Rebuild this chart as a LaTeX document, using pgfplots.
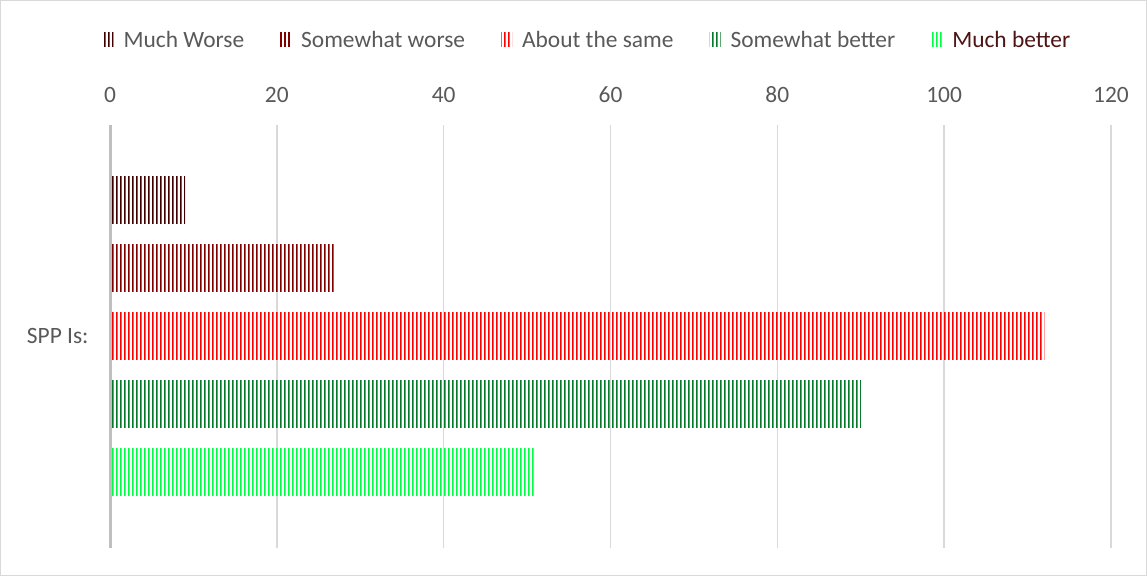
\documentclass[border=0pt]{standalone}
\usepackage{pgfplots}
\pgfplotsset{compat=1.18}
\usepackage{fontspec}
\setmainfont{Carlito}
\usetikzlibrary{patterns.meta}
\definecolor{c1}{HTML}{3F0000}
\definecolor{c2}{HTML}{800000}
\definecolor{c3}{HTML}{FF0000}
\definecolor{c4}{HTML}{067A2A}
\definecolor{c5}{HTML}{00FF44}
\definecolor{txt}{HTML}{595959}
\definecolor{gridc}{HTML}{D9D9D9}
\definecolor{axl}{HTML}{BFBFBF}
\definecolor{lastleg}{HTML}{4D1414}
\tikzdeclarepattern{
  name=vstripes,
  type=uncolored,
  bounding box={(0,0) and (4bp,200bp)},
  tile size={(4bp,200bp)},
  code={\pgfpathrectangle{\pgfpointorigin}{\pgfqpoint{2bp}{200bp}}\pgfusepath{fill}}
}
\begin{document}
\begin{tikzpicture}[x=1bp,y=1bp]
\draw[gridc, line width=1bp] (0.5,0.5) rectangle (1146.5,575.5);
\begin{axis}[
  at={(110bp,28bp)}, anchor=south west,
  scale only axis, width=1001bp, height=423bp,
  xmin=0, xmax=120, ymin=-1, ymax=1,
  xbar=21bp, bar width=47bp,
  xtick={20,40,...,120},
  extra x ticks={0}, extra x tick labels={0},
  extra x tick style={grid style={axl, line width=3bp}},
  ytick={0}, yticklabels={SPP Is:},
  xticklabel pos=right,
  xmajorgrids, grid style={gridc, line width=1.5bp},
  axis line style={draw=none},
  major tick length=0pt,
  /pgf/number format/assume math mode=true,
  tick label style={font=\fontsize{23.5}{26}\selectfont, text=txt},
  xticklabel shift=19bp,
  yticklabel shift=18bp,
  reverse legend,
  legend style={at={(axis description cs:0.477,1.201)}, anchor=center,
    draw=none, fill=none, legend columns=-1,
    font=\fontsize{23.5}{26}\selectfont, text=txt,
    /tikz/every even column/.append style={column sep=34bp},
    /tikz/every odd column/.append style={column sep=8bp}},
  legend image code/.code={\path[#1,draw=none] (0bp,-7bp) rectangle (11bp,7bp);},
]
\addplot[draw=none, pattern=vstripes, pattern color=c5] coordinates {(51,0)};
\addlegendentry{\textcolor{lastleg}{Much better}}
\addplot[draw=none, pattern=vstripes, pattern color=c4] coordinates {(90,0)};
\addlegendentry{Somewhat better}
\addplot[draw=none, pattern=vstripes, pattern color=c3] coordinates {(112,0)};
\addlegendentry{About the same}
\addplot[draw=none, pattern=vstripes, pattern color=c2] coordinates {(27,0)};
\addlegendentry{Somewhat worse}
\addplot[draw=none, pattern=vstripes, pattern color=c1] coordinates {(9,0)};
\addlegendentry{Much Worse}
\end{axis}
\end{tikzpicture}
\end{document}
